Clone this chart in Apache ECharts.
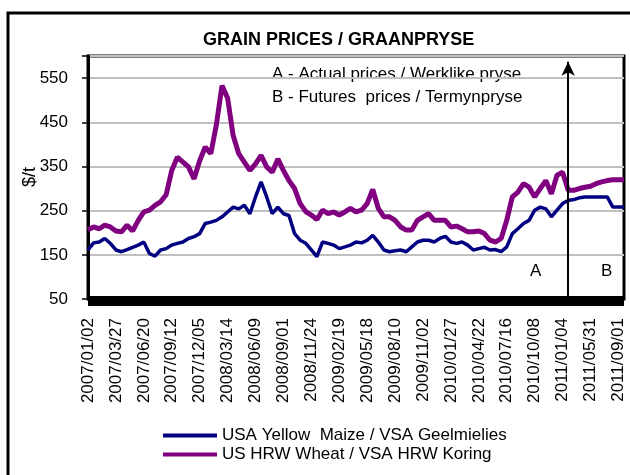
<!DOCTYPE html>
<html>
<head>
<meta charset="utf-8">
<title>Grain prices</title>
<script src="https://cdn.jsdelivr.net/npm/echarts@6/dist/echarts.min.js"></script>
<style>
	html, body { margin: 0; padding: 0; background: #fff; }
	#main { width: 630px; height: 475px; }
</style>
</head>
<body>
<div id="main"></div>
<script>
// tick labels on the x axis, one every 5 points
var dateLabels = ["2007/01/02", "2007/03/27", "2007/06/20", "2007/09/12", "2007/12/05",
	"2008/03/14", "2008/06/09", "2008/09/01", "2008/11/24", "2009/02/19",
	"2009/05/18", "2009/08/10", "2009/11/02", "2010/01/27", "2010/04/22",
	"2010/07/16", "2010/10/08", "2011/01/04", "2011/05/31", "2011/09/01"];

// USA yellow maize, $/t
var maize = [161, 177, 179, 187, 176, 161, 157, 162, 167, 172,
	179, 153, 147, 161, 164, 172, 176, 179, 187, 191,
	198, 221, 224, 228, 236, 247, 258, 254, 262, 243,
	281, 315, 281, 243, 258, 243, 239, 198, 183, 176,
	161, 146, 179, 176, 172, 164, 168, 172, 179, 177,
	183, 194, 179, 161, 157, 159, 161, 157, 168, 179,
	183, 183, 179, 187, 192, 179, 176, 179, 172, 161,
	164, 167, 161, 162, 157, 168, 198, 209, 221, 228,
	251, 258, 254, 236, 251, 266, 273, 275, 279, 281,
	281, 281, 281, 281, 258, 258, 258];

// US HRW wheat, $/t
var wheat = [207, 213, 209, 217, 213, 204, 202, 217, 204, 228,
	247, 251, 262, 270, 286, 341, 371, 360, 349, 322,
	363, 394, 379, 445, 533, 505, 420, 379, 360, 341,
	356, 375, 349, 337, 367, 341, 318, 300, 266, 248,
	240, 230, 251, 243, 247, 240, 247, 255, 247, 251,
	266, 298, 255, 236, 236, 228, 213, 206, 206, 228,
	236, 243, 228, 228, 228, 213, 215, 209, 202, 202,
	204, 198, 183, 179, 187, 228, 281, 292, 311, 303,
	281, 300, 318, 288, 330, 337, 296, 296, 300, 303,
	305, 311, 315, 318, 320, 320, 320];

var yTicks = { min: 50, max: 600, step: 100 };
var splitIndex = 86; // actual prices end, futures begin
var seriesNames = ["USA Yellow  Maize / VSA Geelmielies", "US HRW Wheat / VSA HRW Koring"];

var FONT = "'Liberation Sans', Arial, sans-serif";

function buildCategories(n) { //category names, only every 5th one is shown
	var cats = [];
	for(var k = 0; k < dateLabels.length; k++) {
		for(var j = 0; j < 5; j++) {
			cats.push(j == 0 ? dateLabels[k] : dateLabels[k] + "+" + j);
		}
	}
	return cats.slice(0, n);
}

var chart = echarts.init(document.getElementById('main'), null, { renderer: 'canvas' });
var option = {
	backgroundColor: '#fff',
	animation: false,
	textStyle: { fontFamily: FONT },
	title: {
		text: 'GRAIN PRICES / GRAANPRYSE',
		left: 198,
		top: 26,
		textStyle: { fontFamily: FONT, fontSize: 18, fontWeight: 'bold', color: '#000' }
	},
	legend: {
		orient: 'vertical',
		left: 158,
		top: 421,
		icon: 'rect',
		itemWidth: 54,
		itemHeight: 4,
		itemGap: 0,
		textStyle: { fontFamily: FONT, fontSize: 17, color: '#000', lineHeight: 19 },
		data: seriesNames
	},
	grid: {
		left: 88,
		top: 56,
		right: 6,
		bottom: 176,
		show: true,
		borderColor: '#000',
		borderWidth: 3,
		containLabel: false
	},
	xAxis: {
		type: 'category',
		boundaryGap: false,
		data: buildCategories(maize.length),
		offset: 2,
		axisLine: { lineStyle: { color: '#000', width: 10, cap: 'butt' } },
		axisTick: { show: false },
		axisLabel: {
			interval: 4,
			rotate: 90,
			margin: 17,
			fontFamily: FONT,
			fontSize: 17,
			color: '#000'
		},
		splitLine: { show: false }
	},
	yAxis: {
		type: 'value',
		min: yTicks.min,
		max: yTicks.max,
		interval: yTicks.step,
		axisLine: { show: true, lineStyle: { color: '#000', width: 3 } },
		axisTick: { show: true, length: 6, lineStyle: { color: '#000', width: 1.5 } },
		axisLabel: {
			margin: 20,
			fontFamily: FONT,
			fontSize: 17,
			color: '#000',
			formatter: function(v) {
				return v > 550 ? '' : v;
			}
		},
		splitLine: { show: true, lineStyle: { color: '#c0c0c0', width: 2 } }
	},
	graphic: [{
		type: 'rect',
		silent: true,
		shape: { x: 8, y: 13, width: 660, height: 500 },
		style: { fill: 'none', stroke: '#000', lineWidth: 3 }
	}, {
		type: 'text',
		x: 30,
		y: 177,
		rotation: Math.PI / 2,
		style: { text: '$/t', font: '18px ' + FONT, fill: '#000', align: 'center', verticalAlign: 'middle' }
	}, {
		type: 'text',
		left: 272,
		top: 66,
		style: { text: 'A - Actual prices / Werklike pryse', font: '17px ' + FONT, fill: '#000' }
	}, {
		type: 'text',
		left: 272,
		top: 89,
		style: { text: 'B - Futures  prices / Termynpryse', font: '17px ' + FONT, fill: '#000' }
	}, {
		type: 'text',
		left: 530,
		top: 263,
		style: { text: 'A', font: '17px ' + FONT, fill: '#000' }
	}, {
		type: 'text',
		left: 601,
		top: 263,
		style: { text: 'B', font: '17px ' + FONT, fill: '#000' }
	}],
	series: [{
		name: seriesNames[0],
		type: 'line',
		data: maize,
		symbol: 'none',
		lineStyle: { color: '#000080', width: 3.5 },
		itemStyle: { color: '#000080' },
		markLine: {
			silent: true,
			symbol: ['none', 'arrow'],
			symbolSize: [10, 14],
			label: { show: false },
			lineStyle: { color: '#000', width: 2, type: 'solid' },
			data: [[{ coord: [splitIndex, 50] }, { coord: [splitIndex, 587] }]]
		}
	}, {
		name: seriesNames[1],
		type: 'line',
		data: wheat,
		symbol: 'none',
		lineStyle: { color: '#800080', width: 5 },
		itemStyle: { color: '#800080' }
	}]
};
chart.setOption(option);
</script>
</body>
</html>
